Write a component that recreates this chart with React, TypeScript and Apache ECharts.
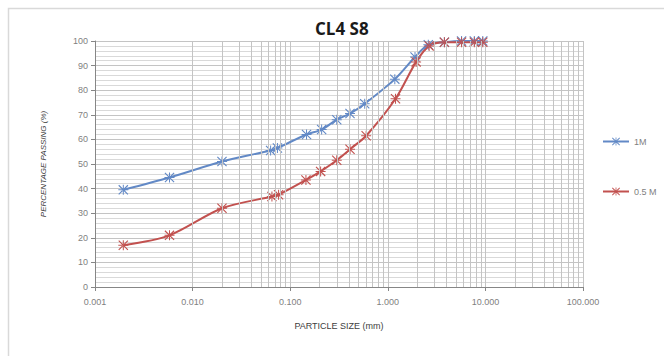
import React, { useEffect, useRef } from "react";
import * as echarts from "echarts";

const seriesNames = ["1M", "0.5 M"];
const sizes1M = [0.00195, 0.0058, 0.02, 0.063, 0.074, 0.147, 0.21, 0.3, 0.41, 0.58, 1.18, 1.9, 2.6, 3.8, 5.7, 7.7, 9.4];
const passing1M = [39.5, 44.5, 51, 55.5, 56.5, 62, 64, 68, 70.5, 74.5, 84.5, 93.5, 98.5, 99.5, 100, 100, 100];
const sizes05M = [0.00195, 0.0058, 0.02, 0.065, 0.076, 0.145, 0.205, 0.3, 0.41, 0.6, 1.2, 1.95, 2.65, 3.8, 5.7, 7.7, 9.4];
const passing05M = [17, 21, 32, 36.8, 37.5, 43.5, 47, 51.5, 56, 61.5, 76.5, 91.5, 98, 99.5, 99.5, 99.5, 99.5];
const decades = [0.001, 0.01, 0.1, 1, 10];
const minorSteps = [2, 3, 4, 5, 6, 7, 8, 9];

const starPath =
  "path://M4.5,0 L5.5,0 L5.5,10 L4.5,10 Z M0,0.8 L0.8,0 L10,9.2 L9.2,10 Z M10,0.8 L9.2,0 L0,9.2 L0.8,10 Z M0,4.5 L10,4.5 L10,5.5 L0,5.5 Z";

export default function App() {
  const ref = useRef<HTMLDivElement>(null);
  useEffect(() => {
    if (!ref.current) return;
    const chart = echarts.init(ref.current, undefined, { renderer: "svg" });
    const minorX: number[] = [];
    decades.forEach((d) => minorSteps.forEach((s) => minorX.push(+(d * s).toPrecision(3))));
    const font = "Liberation Sans";
    chart.setOption({
      animation: false,
      backgroundColor: "#ffffff",
      graphic: [
        {
          type: "rect",
          shape: { x: 8.5, y: 8.5, width: 660, height: 352 },
          style: { fill: "none", stroke: "#d9d9d9", lineWidth: 1.5 },
          z: -10,
        },
      ],
      title: {
        text: "CL4 S8",
        left: 310,
        top: 15,
        textStyle: { fontFamily: "Open Sans", fontSize: 17, fontWeight: "bold", color: "#1a1a1a" },
      },
      legend: {
        orient: "vertical",
        left: 597,
        top: 132,
        itemGap: 41,
        itemWidth: 26,
        itemHeight: 10,
        data: seriesNames,
        textStyle: { fontFamily: font, fontSize: 9, color: "#7f7f7f" },
      },
      grid: { left: 95, right: 81, top: 41, bottom: 69 },
      xAxis: {
        type: "log",
        logBase: 10,
        min: 0.001,
        max: 100,
        name: "PARTICLE SIZE (mm)",
        nameLocation: "middle",
        nameGap: 34,
        nameTextStyle: { fontFamily: font, fontSize: 9, color: "#404040" },
        axisLine: { show: true, lineStyle: { color: "#868686" } },
        axisTick: { show: true, length: 4, lineStyle: { color: "#868686" } },
        axisLabel: {
          fontFamily: font,
          fontSize: 9,
          color: "#7f7f7f",
          margin: 10,
          formatter: (v: number) => v.toFixed(3),
        },
        splitLine: { show: true, lineStyle: { color: "#c4c4c4", width: 1 } },
      },
      yAxis: {
        type: "value",
        min: 0,
        max: 100,
        interval: 10,
        name: "PERCENTAGE PASSING (%)",
        nameLocation: "middle",
        nameGap: 48,
        nameTextStyle: { fontFamily: font, fontSize: 8, fontStyle: "italic", color: "#404040" },
        axisLine: { show: true, lineStyle: { color: "#868686" } },
        axisTick: { show: true, length: 4, lineStyle: { color: "#868686" } },
        axisLabel: { fontFamily: font, fontSize: 9, color: "#7f7f7f", margin: 7 },
        splitLine: { show: true, lineStyle: { color: "#c4c4c4", width: 1 } },
        minorTick: { show: false, splitNumber: 5 },
        minorSplitLine: { show: true, lineStyle: { color: "#d9d9d9", width: 1 } },
      },
      series: [
        {
          name: "gridlines",
          type: "line",
          data: [],
          z: 0,
          silent: true,
          markLine: {
            silent: true,
            symbol: "none",
            label: { show: false },
            lineStyle: { color: "#c4c4c4", type: "solid", width: 1 },
            emphasis: { disabled: true },
            data: minorX.map((v) => ({ xAxis: v })),
          },
        },
        {
          name: seriesNames[0],
          type: "line",
          z: 3,
          smooth: 0.3,
          symbol: starPath,
          symbolSize: 10,
          data: sizes1M.map((x, i) => [x, passing1M[i]]),
          lineStyle: { color: "#6289c6", width: 2 },
          itemStyle: { color: "#6289c6" },
        },
        {
          name: seriesNames[1],
          type: "line",
          z: 3,
          smooth: 0.3,
          symbol: starPath,
          symbolSize: 10,
          data: sizes05M.map((x, i) => [x, passing05M[i]]),
          lineStyle: { color: "#c2514f", width: 2 },
          itemStyle: { color: "#c2514f" },
        },
      ],
    });
    return () => chart.dispose();
  }, []);
  return <div ref={ref} style={{ position: "fixed", left: 0, top: 0, width: 664, height: 356 }} />;
}
